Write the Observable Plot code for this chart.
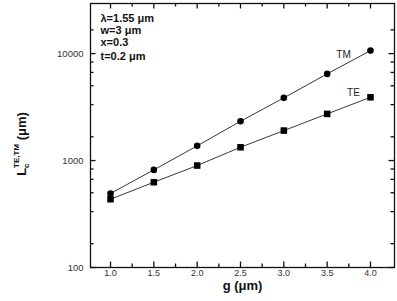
<!DOCTYPE html>
<html><head><meta charset="utf-8">
<script src="https://cdn.jsdelivr.net/npm/d3@7"></script>
<script src="https://cdn.jsdelivr.net/npm/@observablehq/plot@0.6"></script>
<style>
body{margin:0;background:#fff}
svg{display:block}
</style></head><body><div id="chart"></div>
<script>
const g = [1.0, 1.5, 2.0, 2.5, 3.0, 3.5, 4.0];
const tm = [492, 818, 1372, 2330, 3855, 6460, 10670];
const te = [435, 627, 898, 1331, 1906, 2730, 3905];
const xMajor = [1.0, 1.5, 2.0, 2.5, 3.0, 3.5, 4.0];
const xMinor = [1.25, 1.75, 2.25, 2.75, 3.25, 3.75];
const yMajor = [100, 1000, 10000];
const yMinor = [167, 333, 500, 667, 833, 1667, 3333, 5000, 6667, 8333, 16667];
const notes = ["λ=1.55 μm", "w=3 μm", "x=0.3", "t=0.2 μm"];
const seriesNames = ["TM", "TE"];

const TM = g.map((x, i) => ({g: x, L: tm[i]}));
const TE = g.map((x, i) => ({g: x, L: te[i]}));
const fmt = d => d.toFixed(1);
const font = "Liberation Sans, Arial, sans-serif";
const noteDy = [11, 23, 35, 49];

const W = 397, H = 301, mL = 90, mR = 3, mT = 3, mB = 34;
const fw = W - mL - mR, fh = H - mT - mB;
const major = 5.5, minor = 3.5;
const tk = {stroke: "#111", strokeWidth: 1.3};

const tickMarks = [
  Plot.tickX(xMajor, {x: d => d, insetTop: fh - major, ...tk}),
  Plot.tickX(xMinor, {x: d => d, insetTop: fh - minor, ...tk}),
  Plot.tickX(xMajor, {x: d => d, insetBottom: fh - major, ...tk}),
  Plot.tickX(xMinor, {x: d => d, insetBottom: fh - minor, ...tk}),
  Plot.tickY(yMajor, {y: d => d, insetRight: fw - major, ...tk}),
  Plot.tickY(yMinor, {y: d => d, insetRight: fw - minor, ...tk}),
  Plot.tickY(yMajor, {y: d => d, insetLeft: fw - major, ...tk}),
  Plot.tickY(yMinor, {y: d => d, insetLeft: fw - minor, ...tk})
];

const chart = Plot.plot({
  width: W,
  height: H,
  marginLeft: mL,
  marginRight: mR,
  marginTop: mT,
  marginBottom: mB,
  style: {fontFamily: font, background: "#fff", color: "#111"},
  x: {domain: [0.769, 4.277], label: null},
  y: {type: "log", domain: [100, 29400], label: null},
  marks: [
    Plot.axisX(xMajor, {anchor: "bottom", tickSize: 0, tickPadding: 2, tickFormat: fmt, fontSize: 9, fill: "#333", label: null, style: {letterSpacing: "1.2px"}}),
    Plot.axisY(yMajor, {anchor: "left", tickSize: 0, tickPadding: 7, tickFormat: d => String(d), fontSize: 9.5, fill: "#333", label: null, style: {letterSpacing: "1.4px"}}),
    Plot.frame({stroke: "#111", strokeWidth: 1.3}),
    ...tickMarks,
    Plot.line(TM, {x: "g", y: "L", stroke: "#222", strokeWidth: 0.9}),
    Plot.line(TE, {x: "g", y: "L", stroke: "#222", strokeWidth: 0.9}),
    Plot.dot(TM, {x: "g", y: "L", symbol: "circle", r: 3.3, fill: "#000"}),
    Plot.dot(TE, {x: "g", y: "L", symbol: "square", r: 3.7, fill: "#000"}),
    Plot.text([TM[TM.length - 1]], {x: "g", y: "L", text: () => seriesNames[0], dx: -27, dy: 4, fontSize: 10, fill: "#222", style: {letterSpacing: "0.8px"}}),
    Plot.text([TE[TE.length - 1]], {x: "g", y: "L", text: () => seriesNames[1], dx: -17, dy: -4, fontSize: 10, fill: "#222", style: {letterSpacing: "0.8px"}}),
    ...notes.map((t, i) => Plot.text([t], {text: d => d, frameAnchor: "top-left", textAnchor: "start", dx: 10, dy: noteDy[i], fontSize: 11, fontWeight: "bold", fill: "#111", style: {letterSpacing: "0.7px"}})),
    Plot.text(["g (μm)"], {text: d => d, frameAnchor: "bottom", dy: 22, fontSize: 13, fontWeight: "bold", fill: "#111", style: {letterSpacing: "0.6px"}})
  ]
});
document.getElementById("chart").appendChild(chart);

// y-axis label with sub/superscripts
const svg = d3.select(chart);
const yl = svg.append("text")
  .attr("transform", "translate(26,144) rotate(-90)")
  .attr("text-anchor", "middle")
  .attr("font-family", font)
  .attr("font-weight", "bold")
  .attr("font-size", 13)
  .attr("fill", "#111");
yl.append("tspan").text("L");
yl.append("tspan").attr("font-size", 8).attr("dy", 3).text("c");
yl.append("tspan").attr("font-size", 8).attr("dx", -4.5).attr("dy", -10).text("TE,TM");
yl.append("tspan").attr("dy", 7).text(" (μm)");
</script>
</body></html>
